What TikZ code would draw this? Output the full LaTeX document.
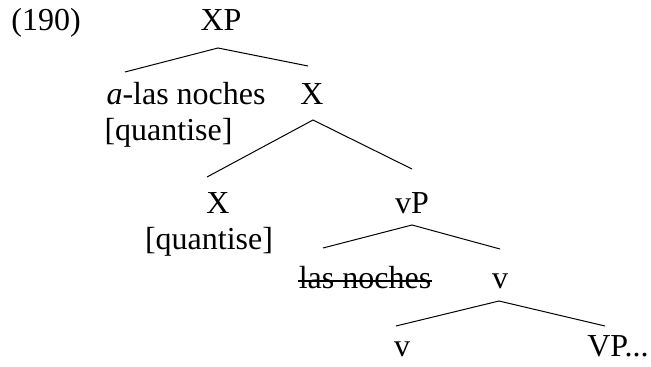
\documentclass[tikz,border=0pt]{standalone}
\usepackage{fontspec}
\setmainfont{Liberation Serif}
\usepackage{tikz}
\usetikzlibrary{positioning}

\begin{document}
\begin{tikzpicture}[x=1pt, y=-1pt, line width=1pt,
    word/.style={inner sep=0pt, anchor=base,
      font=\fontsize{32}{38}\selectfont}]
   \useasboundingbox (0,0) rectangle (651,367);
   \begin{scope}[every node/.style={word}]
    \node (num) at (46,30) {(190)};
    \node (XP) at (221,30) {XP};
    \node (aln) [anchor=base west] at (106,104) {\textit{a}-las noches};
    \node (q1) [anchor=base west] at (104,140) {[quantise]};
    \node (X1) at (312,104) {X};
    \node (X2) at (218,213) {X};
    \node (q2) at (209,249) {[quantise]};
    \node (vP) at (412,213) {vP};
    \node (ln) at (365,288) {las noches};
    \node (v1) at (500,288) {v};
    \node (v2) at (402,356) {v};
    \node (VP) at (618,356) {VP...};
   \end{scope}
   % branches
   \draw ([shift={(19pt,32pt)}]aln.base west) -- ([shift={(-3pt,-18pt)}]XP.base)
         -- ([shift={(-4pt,38pt)}]X1.base);
   \draw ([shift={(-11pt,36pt)}]X2.base) -- ([shift={(1pt,-16pt)}]X1.base)
         -- ([yshift=44pt]vP.base);
   \draw ([shift={(-42pt,40pt)}]ln.base) -- ([yshift=-12pt]vP.base)
         -- ([yshift=39pt]v1.base);
   \draw ([shift={(-6pt,30pt)}]v2.base) -- ([shift={(-1pt,-13pt)}]v1.base)
         -- ([shift={(-13pt,30pt)}]VP.base);
   % struck-out copy
   \draw[line width=1.3pt] ([yshift=7pt]ln.base west) -- ([yshift=7pt]ln.base east);
\end{tikzpicture}
\end{document}
